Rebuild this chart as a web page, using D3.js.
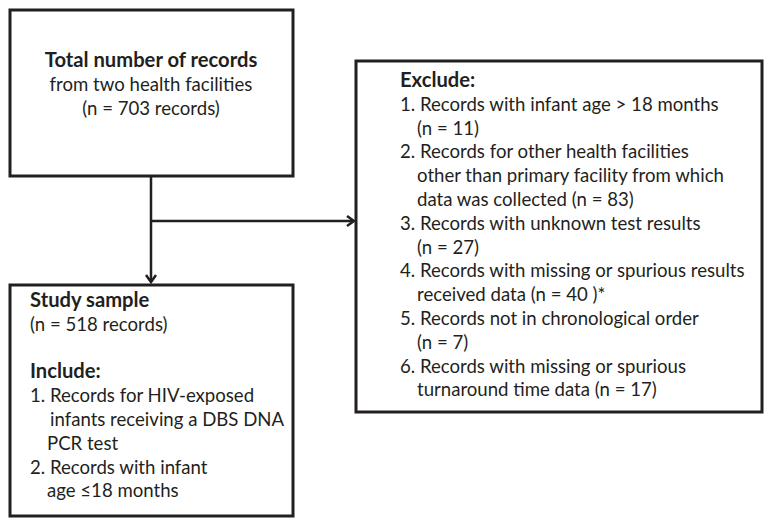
<!DOCTYPE html>
<html>
<head>
<meta charset="utf-8">
<script src="https://cdn.jsdelivr.net/npm/d3@7"></script>
<style>
  body { margin: 0; background: #fff; }
  svg text { font-family: Lato, "Open Sans", sans-serif; fill: #231f20; }
</style>
</head>
<body>
<div id="chart"></div>
<script>
// text of each box, one entry per line (bold / indent flags)
var topLines = [
  { t: "Total number of records", b: true },
  { t: "from two health facilities" },
  { t: "(n = 703 records)" }
];

var sampleLines = [
  { t: "Study sample", b: true },
  { t: "(n = 518 records)" },
  { t: "" },
  { t: "Include:", b: true },
  { t: "1. Records for HIV-exposed" },
  { t: "infants receiving a DBS DNA", i: 20 },
  { t: "PCR test", i: 17 },
  { t: "2. Records with infant" },
  { t: "age \u226418 months", i: 17 }
];

var excludeLines = [
  { t: "Exclude:", b: true },
  { t: "1. Records with infant age > 18 months" },
  { t: "(n = 11)", i: 17 },
  { t: "2. Records for other health facilities" },
  { t: "other than primary facility from which", i: 17 },
  { t: "data was collected (n = 83)", i: 17 },
  { t: "3. Records with unknown test results" },
  { t: "(n = 27)", i: 17 },
  { t: "4. Records with missing or spurious results" },
  { t: "received data (n = 40 )*", i: 17 },
  { t: "5. Records not in chronological order" },
  { t: "(n = 7)", i: 17 },
  { t: "6. Records with missing or spurious" },
  { t: "turnaround time data (n = 17)", i: 17 }
];

var W = 771, H = 525,
    ink = "#231f20",
    lineH = 23.8,
    fontSize = 18.6,
    boldSize = 20.2;

var svg = d3.select("#chart").append("svg")
    .attr("width", W)
    .attr("height", H);

// boxes
var boxes = [
  { x: 10, y: 10, w: 283, h: 166 },
  { x: 10, y: 285, w: 283, h: 231 },
  { x: 356, y: 61, w: 406, h: 351 }
];

svg.selectAll("rect.box")
    .data(boxes)
    .enter()
    .append("rect")
    .attr("class", "box")
    .attr("x", d => d.x)
    .attr("y", d => d.y)
    .attr("width", d => d.w)
    .attr("height", d => d.h)
    .style("fill", "none")
    .style("stroke", ink)
    .style("stroke-width", 3);

// connectors
var stemX = 151, branchY = 221;
svg.append("path")
    .attr("d", "M" + stemX + ",176 V282")
    .style("stroke", ink).style("stroke-width", 2.5).style("fill", "none");
svg.append("path")
    .attr("d", "M" + stemX + "," + branchY + " H353")
    .style("stroke", ink).style("stroke-width", 2.5).style("fill", "none");

// open chevron arrowheads
svg.append("path")
    .attr("d", "M" + (stemX - 5) + ",275 L" + stemX + ",282 L" + (stemX + 5) + ",275")
    .style("stroke", ink).style("stroke-width", 2.5).style("fill", "none");
svg.append("path")
    .attr("d", "M347," + (branchY - 5) + " L354," + branchY + " L347," + (branchY + 5))
    .style("stroke", ink).style("stroke-width", 2.5).style("fill", "none");

// write a block of lines
function writeLines(lines, x, y0, anchor) {
  svg.append("g")
    .selectAll("text")
    .data(lines)
    .enter()
    .append("text")
    .attr("x", d => x + (d.i || 0))
    .attr("y", (d, k) => y0 + k * lineH)
    .attr("font-size", d => d.b ? boldSize : fontSize)
    .attr("font-weight", d => d.b ? "bold" : "normal")
    .attr("text-anchor", anchor || "start")
    .text(d => d.t);
}

writeLines(topLines, 151, 67, "middle");
writeLines(sampleLines, 30, 307);
writeLines(excludeLines, 400, 87);
</script>
</body>
</html>
